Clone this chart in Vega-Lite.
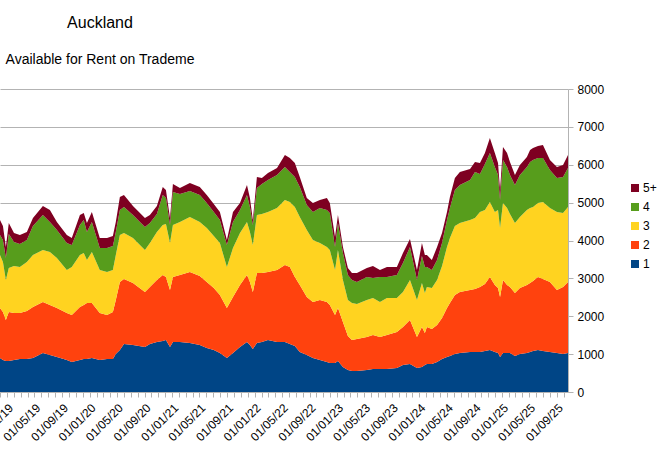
{
  "$schema": "https://vega.github.io/schema/vega-lite/v6.json",
  "width": 568,
  "height": 303,
  "autosize": {"type": "none"},
  "padding": {"left": 0, "top": 89, "right": 89, "bottom": 69},
  "background": "white",
  "title": {
    "text": "Auckland",
    "subtitle": "Available for Rent on Trademe",
    "anchor": "start",
    "frame": "group",
    "align": "center",
    "dx": 100,
    "offset": 16,
    "font": "Liberation Sans",
    "fontSize": 16,
    "fontWeight": "normal",
    "color": "#000000",
    "subtitleFont": "Liberation Sans",
    "subtitleFontSize": 14,
    "subtitleColor": "#000000",
    "subtitlePadding": 22
  },
  "data": {
    "values": [
      {"date": "2018-11-30", "1": 898, "2": 1320, "3": 1399, "4": 528, "5+": 396},
      {"date": "2018-12-13", "1": 845, "2": 1267, "3": 1320, "4": 581, "5+": 370},
      {"date": "2018-12-26", "1": 818, "2": 1082, "3": 1056, "4": 581, "5+": 290},
      {"date": "2019-01-08", "1": 818, "2": 1294, "3": 1162, "4": 898, "5+": 290},
      {"date": "2019-01-31", "1": 845, "2": 1241, "3": 1241, "4": 634, "5+": 238},
      {"date": "2019-02-26", "1": 871, "2": 1214, "3": 1214, "4": 607, "5+": 238},
      {"date": "2019-03-29", "1": 871, "2": 1267, "3": 1294, "4": 581, "5+": 211},
      {"date": "2019-04-25", "1": 898, "2": 1346, "3": 1373, "4": 766, "5+": 211},
      {"date": "2019-06-08", "1": 1030, "2": 1346, "3": 1373, "4": 924, "5+": 238},
      {"date": "2019-07-09", "1": 977, "2": 1320, "3": 1399, "4": 792, "5+": 317},
      {"date": "2019-08-09", "1": 924, "2": 1294, "3": 1320, "4": 739, "5+": 211},
      {"date": "2019-09-22", "1": 845, "2": 1241, "3": 1135, "4": 713, "5+": 211},
      {"date": "2019-10-14", "1": 792, "2": 1241, "3": 1267, "4": 581, "5+": 185},
      {"date": "2019-11-19", "1": 845, "2": 1399, "3": 1373, "4": 792, "5+": 264},
      {"date": "2019-12-06", "1": 871, "2": 1426, "3": 1373, "4": 871, "5+": 185},
      {"date": "2019-12-20", "1": 871, "2": 1478, "3": 1135, "4": 739, "5+": 238},
      {"date": "2020-01-11", "1": 898, "2": 1452, "3": 1346, "4": 792, "5+": 264},
      {"date": "2020-02-15", "1": 845, "2": 1241, "3": 1135, "4": 581, "5+": 264},
      {"date": "2020-03-18", "1": 871, "2": 1162, "3": 1135, "4": 634, "5+": 264},
      {"date": "2020-04-13", "1": 871, "2": 1241, "3": 1109, "4": 634, "5+": 264},
      {"date": "2020-04-26", "1": 1003, "2": 1426, "3": 1188, "4": 607, "5+": 264},
      {"date": "2020-05-14", "1": 1109, "2": 1795, "3": 1241, "4": 660, "5+": 343},
      {"date": "2020-06-01", "1": 1267, "2": 1716, "3": 1214, "4": 686, "5+": 317},
      {"date": "2020-07-11", "1": 1241, "2": 1637, "3": 1188, "4": 607, "5+": 238},
      {"date": "2020-09-02", "1": 1188, "2": 1452, "3": 1109, "4": 607, "5+": 238},
      {"date": "2020-09-24", "1": 1267, "2": 1505, "3": 1162, "4": 528, "5+": 211},
      {"date": "2020-10-25", "1": 1320, "2": 1637, "3": 1267, "4": 475, "5+": 211},
      {"date": "2020-11-20", "1": 1346, "2": 1742, "3": 1320, "4": 792, "5+": 211},
      {"date": "2020-12-04", "1": 1373, "2": 1663, "3": 1399, "4": 686, "5+": 211},
      {"date": "2020-12-22", "1": 1188, "2": 1505, "3": 1241, "4": 475, "5+": 185},
      {"date": "2021-01-04", "1": 1320, "2": 1716, "3": 1373, "4": 871, "5+": 211},
      {"date": "2021-02-04", "1": 1320, "2": 1769, "3": 1399, "4": 739, "5+": 158},
      {"date": "2021-03-20", "1": 1294, "2": 1874, "3": 1452, "4": 686, "5+": 211},
      {"date": "2021-05-03", "1": 1241, "2": 1822, "3": 1426, "4": 713, "5+": 211},
      {"date": "2021-06-03", "1": 1162, "2": 1742, "3": 1426, "4": 660, "5+": 211},
      {"date": "2021-07-04", "1": 1109, "2": 1637, "3": 1373, "4": 634, "5+": 211},
      {"date": "2021-07-31", "1": 1030, "2": 1531, "3": 1373, "4": 607, "5+": 211},
      {"date": "2021-08-31", "1": 898, "2": 1320, "3": 1082, "4": 581, "5+": 132},
      {"date": "2021-09-27", "1": 1030, "2": 1478, "3": 1294, "4": 686, "5+": 264},
      {"date": "2021-10-28", "1": 1188, "2": 1637, "3": 1373, "4": 607, "5+": 185},
      {"date": "2021-11-28", "1": 1320, "2": 1769, "3": 1399, "4": 713, "5+": 264},
      {"date": "2021-12-11", "1": 1241, "2": 1663, "3": 1320, "4": 660, "5+": 238},
      {"date": "2021-12-24", "1": 1135, "2": 1505, "3": 1241, "4": 528, "5+": 132},
      {"date": "2022-01-11", "1": 1294, "2": 1848, "3": 1531, "4": 713, "5+": 290},
      {"date": "2022-02-02", "1": 1320, "2": 1822, "3": 1558, "4": 792, "5+": 158},
      {"date": "2022-03-01", "1": 1373, "2": 1795, "3": 1584, "4": 845, "5+": 185},
      {"date": "2022-04-10", "1": 1320, "2": 1901, "3": 1637, "4": 871, "5+": 185},
      {"date": "2022-05-15", "1": 1320, "2": 2033, "3": 1716, "4": 871, "5+": 317},
      {"date": "2022-06-06", "1": 1267, "2": 2033, "3": 1716, "4": 792, "5+": 370},
      {"date": "2022-06-28", "1": 1214, "2": 1822, "3": 1848, "4": 792, "5+": 370},
      {"date": "2022-07-20", "1": 1056, "2": 1769, "3": 1795, "4": 792, "5+": 264},
      {"date": "2022-08-20", "1": 977, "2": 1531, "3": 1769, "4": 660, "5+": 185},
      {"date": "2022-09-16", "1": 898, "2": 1478, "3": 1637, "4": 739, "5+": 238},
      {"date": "2022-10-17", "1": 845, "2": 1584, "3": 1505, "4": 924, "5+": 211},
      {"date": "2022-11-17", "1": 792, "2": 1584, "3": 1452, "4": 977, "5+": 317},
      {"date": "2022-11-30", "1": 766, "2": 1531, "3": 1452, "4": 977, "5+": 264},
      {"date": "2022-12-23", "1": 766, "2": 1267, "3": 1188, "4": 607, "5+": 264},
      {"date": "2023-01-05", "1": 818, "2": 1399, "3": 1531, "4": 713, "5+": 211},
      {"date": "2023-01-27", "1": 660, "2": 1188, "3": 1109, "4": 713, "5+": 158},
      {"date": "2023-02-18", "1": 581, "2": 898, "3": 950, "4": 660, "5+": 185},
      {"date": "2023-03-08", "1": 554, "2": 818, "3": 977, "4": 607, "5+": 185},
      {"date": "2023-03-30", "1": 554, "2": 845, "3": 924, "4": 581, "5+": 238},
      {"date": "2023-05-13", "1": 581, "2": 871, "3": 977, "4": 607, "5+": 238},
      {"date": "2023-06-09", "1": 607, "2": 898, "3": 977, "4": 528, "5+": 317},
      {"date": "2023-07-10", "1": 607, "2": 845, "3": 924, "4": 660, "5+": 185},
      {"date": "2023-08-10", "1": 607, "2": 898, "3": 977, "4": 554, "5+": 264},
      {"date": "2023-09-23", "1": 634, "2": 950, "3": 898, "4": 607, "5+": 211},
      {"date": "2023-10-20", "1": 713, "2": 1003, "3": 924, "4": 766, "5+": 264},
      {"date": "2023-11-20", "1": 739, "2": 1162, "3": 1056, "4": 871, "5+": 211},
      {"date": "2023-12-21", "1": 634, "2": 818, "3": 977, "4": 528, "5+": 264},
      {"date": "2024-01-12", "1": 660, "2": 1056, "3": 1162, "4": 713, "5+": 343},
      {"date": "2024-01-25", "1": 713, "2": 845, "3": 1056, "4": 686, "5+": 317},
      {"date": "2024-02-03", "1": 739, "2": 977, "3": 1056, "4": 528, "5+": 317},
      {"date": "2024-02-25", "1": 739, "2": 924, "3": 1082, "4": 475, "5+": 264},
      {"date": "2024-03-19", "1": 792, "2": 977, "3": 1188, "4": 528, "5+": 343},
      {"date": "2024-04-10", "1": 871, "2": 1082, "3": 1373, "4": 607, "5+": 264},
      {"date": "2024-05-02", "1": 924, "2": 1294, "3": 1610, "4": 713, "5+": 211},
      {"date": "2024-05-15", "1": 950, "2": 1399, "3": 1716, "4": 792, "5+": 290},
      {"date": "2024-06-06", "1": 1003, "2": 1558, "3": 1822, "4": 950, "5+": 317},
      {"date": "2024-06-28", "1": 1030, "2": 1610, "3": 1822, "4": 1003, "5+": 343},
      {"date": "2024-08-12", "1": 1056, "2": 1637, "3": 1848, "4": 1056, "5+": 290},
      {"date": "2024-09-03", "1": 1056, "2": 1663, "3": 1874, "4": 1214, "5+": 264},
      {"date": "2024-09-25", "1": 1056, "2": 1716, "3": 1980, "4": 1003, "5+": 290},
      {"date": "2024-10-17", "1": 1082, "2": 1769, "3": 1954, "4": 1214, "5+": 290},
      {"date": "2024-11-08", "1": 1109, "2": 1927, "3": 1980, "4": 1294, "5+": 396},
      {"date": "2024-11-30", "1": 1056, "2": 1769, "3": 1927, "4": 1188, "5+": 370},
      {"date": "2024-12-14", "1": 1030, "2": 1716, "3": 2059, "4": 924, "5+": 317},
      {"date": "2024-12-23", "1": 924, "2": 1584, "3": 1822, "4": 739, "5+": 264},
      {"date": "2025-01-05", "1": 1030, "2": 1927, "3": 2033, "4": 1135, "5+": 343},
      {"date": "2025-01-23", "1": 1030, "2": 1795, "3": 2033, "4": 1082, "5+": 370},
      {"date": "2025-02-05", "1": 1030, "2": 1742, "3": 1927, "4": 1030, "5+": 343},
      {"date": "2025-02-27", "1": 950, "2": 1663, "3": 1848, "4": 1003, "5+": 264},
      {"date": "2025-03-21", "1": 1003, "2": 1742, "3": 1874, "4": 1109, "5+": 264},
      {"date": "2025-04-21", "1": 1030, "2": 1795, "3": 1980, "4": 1135, "5+": 264},
      {"date": "2025-05-05", "1": 1056, "2": 1822, "3": 1980, "4": 1214, "5+": 317},
      {"date": "2025-05-18", "1": 1082, "2": 1848, "3": 1954, "4": 1241, "5+": 317},
      {"date": "2025-06-09", "1": 1109, "2": 1927, "3": 1954, "4": 1188, "5+": 317},
      {"date": "2025-07-01", "1": 1082, "2": 1901, "3": 2033, "4": 1162, "5+": 343},
      {"date": "2025-08-01", "1": 1056, "2": 1848, "3": 1954, "4": 1003, "5+": 264},
      {"date": "2025-09-01", "1": 1030, "2": 1663, "3": 2059, "4": 898, "5+": 290},
      {"date": "2025-09-28", "1": 1003, "2": 1769, "3": 1954, "4": 950, "5+": 317},
      {"date": "2025-10-20", "1": 1030, "2": 1874, "3": 1980, "4": 1030, "5+": 343}
    ]
  },
  "transform": [
    {"fold": ["1", "2", "3", "4", "5+"], "as": ["rooms", "count"]}
  ],
  "mark": {"type": "area", "interpolate": "linear"},
  "encoding": {
    "x": {
      "field": "date",
      "type": "temporal",
      "scale": {
        "type": "utc",
        "nice": false,
        "domain": [
          {"year": 2018, "month": 11, "date": 30, "utc": true},
          {"year": 2025, "month": 10, "date": 20, "utc": true}
        ]
      },
      "axis": {
        "title": null,
        "grid": false,
        "tickCount": {"interval": "month", "step": 1},
        "labelExpr": "utcmonth(datum.value) % 4 == 0 ? utcFormat(datum.value, '%d/%m/%y') : ''",
        "labelAngle": -45,
        "labelAlign": "right",
        "labelBaseline": "top",
        "labelOverlap": false,
        "labelBound": false,
        "labelFlush": false,
        "labelFontSize": 12,
        "labelColor": "#000000",
        "labelPadding": 5,
        "tickColor": "#b3b3b3",
        "tickSize": 5,
        "domainColor": "#b3b3b3"
      }
    },
    "y": {
      "field": "count",
      "type": "quantitative",
      "stack": "zero",
      "scale": {"domain": [0, 8000], "nice": false},
      "axis": {
        "orient": "right",
        "title": null,
        "format": "d",
        "values": [0, 1000, 2000, 3000, 4000, 5000, 6000, 7000, 8000],
        "grid": true,
        "gridColor": "#b3b3b3",
        "gridWidth": 1,
        "domainColor": "#b3b3b3",
        "tickColor": "#b3b3b3",
        "tickSize": 5,
        "labelFontSize": 12,
        "labelColor": "#000000",
        "labelPadding": 4
      }
    },
    "color": {
      "field": "rooms",
      "type": "nominal",
      "scale": {
        "domain": ["5+", "4", "3", "2", "1"],
        "range": ["#7e0021", "#579d1c", "#ffd320", "#ff420e", "#004586"]
      },
      "legend": {
        "title": null,
        "orient": "none",
        "legendX": 629,
        "legendY": 93,
        "symbolType": "square",
        "symbolSize": 64,
        "symbolStrokeWidth": 0,
        "labelFontSize": 12,
        "labelColor": "#000000",
        "labelOffset": 2,
        "rowPadding": 7,
        "padding": 0
      }
    },
    "order": {"field": "rooms", "type": "ordinal", "sort": "ascending"}
  },
  "config": {
    "font": "Liberation Sans",
    "view": {"stroke": null}
  }
}
